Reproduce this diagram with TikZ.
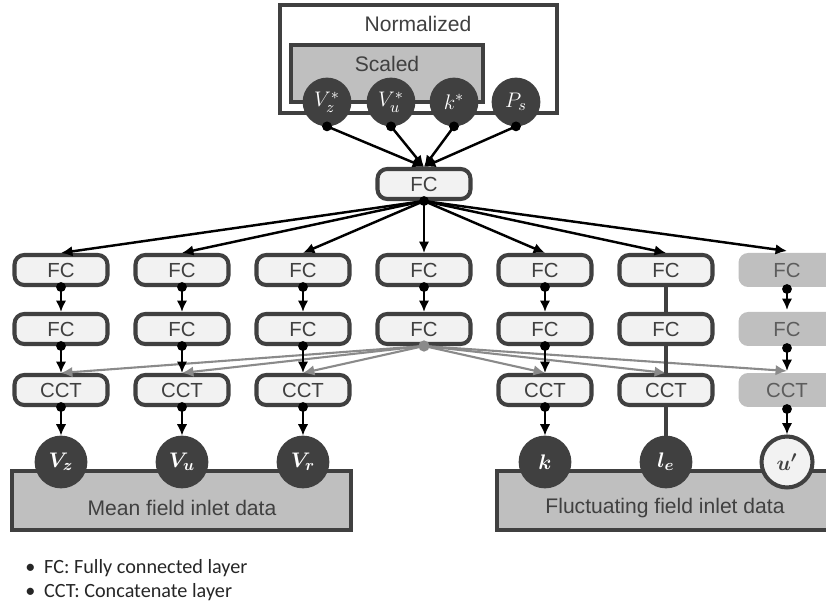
\documentclass[tikz,border=0pt]{standalone}
\usepackage{amsmath}
\usepackage{fontspec}
\setmainfont{Liberation Sans}
\newfontfamily\notefont{Carlito}
\usetikzlibrary{arrows.meta}
\definecolor{darkgr}{HTML}{404040}
\definecolor{lightgr}{HTML}{F2F2F2}
\definecolor{midgr}{HTML}{BFBFBF}
\definecolor{linkgr}{HTML}{8A8A8A}

\begin{document}
\begin{tikzpicture}[x=0.02cm, y=-0.02cm,
    layer/.style={rectangle, draw=darkgr, line width=2.3pt, fill=lightgr, rounded corners=5.5pt,
        minimum width=1.86cm, minimum height=0.6cm, inner sep=0pt, text=darkgr,
        font=\fontsize{11.6}{13}\selectfont},
    ghost/.style={layer, draw=none, fill=midgr, minimum width=1.94cm, minimum height=0.68cm, text=darkgr!85},
    innode/.style={circle, draw=darkgr, line width=1pt, fill=darkgr, minimum size=0.94cm, inner sep=0pt,
        text=white, font=\fontsize{13}{15}\selectfont},
    outnode/.style={innode, minimum size=1.02cm},
    flow/.style={line width=1.4pt, -{Latex[length=6.5pt, width=6pt]}},
    share/.style={line width=1.2pt, draw=linkgr, -{Latex[length=6.5pt, width=6pt]}, color=linkgr},
    title/.style={text=darkgr, font=\fontsize{12}{14}\selectfont, inner sep=0pt}]
    \useasboundingbox (0,0) rectangle (826,604);
    \clip (0,0) rectangle (826,604);

    % input group
    \draw[darkgr, line width=2.3pt, fill=white] (280,5) rectangle (557,113);
    \node[title] (norm) at (418,24) {Normalized};
    \draw[darkgr, line width=2.3pt, fill=midgr] (291,45) rectangle (483,102);
    \node[title] (scal) at (387,64) {Scaled};
    \node[innode] (vzs) at (327,102) {$V_z^*$};
    \node[innode] (vus) at (391,102) {$V_u^*$};
    \node[innode] (ks) at (454,102) {$k^*$};
    \node[innode] (ps) at (516,102) {$P_s$};

    % output groups
    \draw[darkgr, line width=2.3pt, fill=midgr] (12,471) rectangle (351,530);
    \node[title, font=\fontsize{12}{14}\selectfont] (meantxt) at (182,508) {Mean field inlet data};
    \draw[darkgr, line width=2.3pt, fill=midgr] (497,471) rectangle (850,530);
    \node[title, font=\fontsize{12}{14}\selectfont] (fluctxt) at (665,508) {Fluctuating field inlet data};

    % layers
    \node[layer] (fc0) at (424,184) {FC};
    \node[layer] (fa1) at (61,270) {FC};
    \node[layer] (fa2) at (182,270) {FC};
    \node[layer] (fa3) at (303,270) {FC};
    \node[layer] (fa4) at (424,270) {FC};
    \node[layer] (fa5) at (545,270) {FC};
    \node[layer] (fa6) at (666,270) {FC};
    \node[ghost] (fa7) at (787,270) {FC};
    \node[layer] (fb1) at (61,329) {FC};
    \node[layer] (fb2) at (182,329) {FC};
    \node[layer] (fb3) at (303,329) {FC};
    \node[layer] (fb4) at (424,329) {FC};
    \node[layer] (fb5) at (545,329) {FC};
    \node[layer] (fb6) at (666,329) {FC};
    \node[ghost] (fb7) at (787,329) {FC};
    \node[layer] (cc1) at (61,390) {CCT};
    \node[layer] (cc2) at (182,390) {CCT};
    \node[layer] (cc3) at (303,390) {CCT};
    \node[layer] (cc5) at (545,390) {CCT};
    \node[layer] (cc6) at (666,390) {CCT};
    \node[ghost] (cc7) at (787,390) {CCT};

    % outputs
    \node[outnode] (vz) at (61,462) {$\boldsymbol{V_z}$};
    \node[outnode] (vu) at (182,462) {$\boldsymbol{V_u}$};
    \node[outnode] (vr) at (303,462) {$\boldsymbol{V_r}$};
    \node[outnode] (k) at (545,462) {$\boldsymbol{k}$};
    \node[outnode] (le) at (666,462) {$\boldsymbol{l_e}$};
    \node[outnode, fill=lightgr, line width=2.3pt, text=darkgr] (up) at (787,462) {$\boldsymbol{u'}$};

    % inputs into the first layer
    \foreach \n in {vzs,vus,ks,ps} {
        \draw[flow] (\n.south) -- (fc0.north);
        \fill (\n.south) circle (2.8pt);
    }
    % first layer into the branches
    \foreach \n in {fa1,fa2,fa3,fa4,fa5,fa6,fa7}
        \draw[flow] (fc0.south) -- (\n.north);
    \fill (fc0.south) circle (2.8pt);

    % shared branch into the concatenations
    \foreach \n in {cc1,cc2,cc3,cc5,cc6,cc7}
        \draw[share] (fb4.south) -- (\n.north);
    \fill[linkgr] (fb4.south) circle (3.2pt);

    % branches
    \foreach \i/\o in {1/vz,2/vu,3/vr,5/k,7/up} {
        \draw[flow] (fa\i.south) -- (fb\i.north);
        \draw[flow] (fb\i.south) -- (cc\i.north);
        \draw[flow] (cc\i.south) -- (\o.north);
        \fill (fa\i.south) circle (2.8pt);
        \fill (fb\i.south) circle (2.8pt);
        \fill (cc\i.south) circle (2.8pt);
    }
    \draw[flow] (fa4.south) -- (fb4.north);
    \fill (fa4.south) circle (2.8pt);
    \draw[darkgr, line width=2.3pt] (fa6.south) -- (fb6.north);
    \draw[darkgr, line width=2.3pt] (fb6.south) -- (cc6.north);
    \draw[darkgr, line width=2.3pt] (cc6.south) -- (le.north);

    % legend
    \node[anchor=west, inner sep=0pt, text=black!85, font=\notefont\fontsize{11.5}{14}\selectfont] (note1) at (25,568) {•\hspace{5pt}FC: Fully connected layer};
    \node[anchor=west, inner sep=0pt, text=black!85, font=\notefont\fontsize{11.5}{14}\selectfont] (note2) at (25,592) {•\hspace{5pt}CCT: Concatenate layer};
\end{tikzpicture}
\end{document}
